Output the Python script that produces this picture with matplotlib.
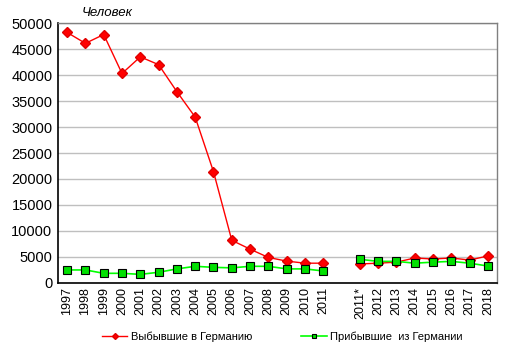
import numpy as np
import matplotlib
matplotlib.use("Agg")
import matplotlib.pyplot as plt

plt.rcParams['font.family'] = ['Liberation Sans', 'DejaVu Sans']

# categories (empty slot between the two periods)
years = ['1997', '1998', '1999', '2000', '2001', '2002', '2003', '2004', '2005',
         '2006', '2007', '2008', '2009', '2010', '2011', '',
         '2011*', '2012', '2013', '2014', '2015', '2016', '2017', '2018']

# emigrated to Germany
left_to_de = [48200, 46100, 47800, 40300, 43500, 42000, 36800, 31900, 21400,
              8200, 6500, 4900, 4200, 3800, 3800, np.nan,
              3650, 3800, 4000, 4800, 4600, 4800, 4400, 5200]
# arrived from Germany
came_from_de = [2500, 2500, 1850, 1850, 1650, 2050, 2700, 3200, 3000,
                2900, 3200, 3200, 2700, 2700, 2300, np.nan,
                4550, 4150, 4150, 3800, 4000, 4150, 3800, 3250]

x = np.arange(len(years))

fig = plt.figure(figsize=(5.13, 3.55), dpi=100)
ax = fig.add_axes([0.113, 0.203, 0.856, 0.732])

l1, = ax.plot(x, left_to_de, color='#FF0000', lw=1, marker='D', ms=5.5,
              mfc='#FF0000', mec='#E00000', label='Выбывшие в Германию')
l2, = ax.plot(x, came_from_de, color='#00FF00', lw=1.2, marker='s', ms=6,
              mfc='#00E000', mec='black', mew=0.8, label='Прибывшие  из Германии')

ax.set_xlim(-0.5, len(years) - 0.5)
ax.set_ylim(0, 50000)
ax.set_yticks(np.arange(0, 50001, 5000))
ax.yaxis.grid(True, color='#BFBFBF', lw=1)
ax.set_axisbelow(True)
ax.set_xticks(x)
ax.set_xticklabels(years, rotation=90, fontsize=9)
ax.tick_params(axis='y', labelsize=10.5, length=0, pad=4)
ax.tick_params(axis='x', length=0, pad=3)

for s in ['left', 'bottom']:
    ax.spines[s].set_color('black')
    ax.spines[s].set_linewidth(1.2)
for s in ['top', 'right']:
    ax.spines[s].set_color('#808080')
    ax.spines[s].set_linewidth(1)

fig.text(0.16, 0.962, 'Человек', fontsize=9.5, style='italic', ha='left', va='center')

# legend markers shown small, as in original
fig.legend(handles=[l1, l2], loc='center', bbox_to_anchor=(0.55, 0.052), ncol=2,
           frameon=False, fontsize=8, handlelength=2.3, columnspacing=4.4,
           handletextpad=0.3, markerscale=0.55)

fig.savefig('out.png', dpi=100)
